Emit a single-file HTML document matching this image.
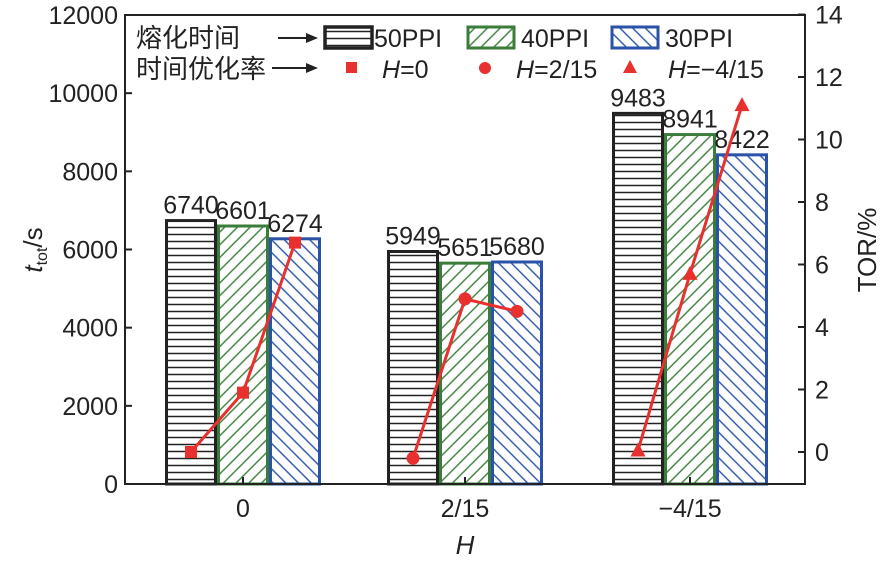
<!DOCTYPE html>
<html><head><meta charset="utf-8">
<style>
html,body{margin:0;padding:0;background:#fff;}
svg{display:block;font-family:"Liberation Sans","Noto Sans CJK SC",sans-serif;}
</style></head>
<body>
<svg id="chart" width="886" height="561" viewBox="0 0 886 561" xmlns="http://www.w3.org/2000/svg">
<defs>
<pattern id="hatchH" patternUnits="userSpaceOnUse" width="8" height="7"><rect width="8" height="7" fill="#fff"/><line x1="0" y1="3.5" x2="8" y2="3.5" stroke="#222" stroke-width="1.5"/></pattern>
<pattern id="hatchF" patternUnits="userSpaceOnUse" width="9" height="9" patternTransform="rotate(45)"><rect width="9" height="9" fill="#fff"/><line x1="4.5" y1="0" x2="4.5" y2="9" stroke="#3a7d3a" stroke-width="1.4"/></pattern>
<pattern id="hatchB" patternUnits="userSpaceOnUse" width="9" height="9" patternTransform="rotate(-45)"><rect width="9" height="9" fill="#fff"/><line x1="4.5" y1="0" x2="4.5" y2="9" stroke="#2a52a8" stroke-width="1.4"/></pattern>
</defs>
<g id="bars"></g>
<g id="lines"></g>
<g id="axes"></g>
<g id="legend"></g>
</svg>
<script>
const categories = ["0","2/15","\u22124/15"];
const series = ["50PPI","40PPI","30PPI"];
const ppi50 = [6740,5949,9483];
const ppi40 = [6601,5651,8941];
const ppi30 = [6274,5680,8422];
const torH0 = [0,1.9,6.7];
const torH2 = [-0.2,4.9,4.5];
const torH4 = [0.05,5.7,11.1];
const leftTicks = [0,2000,4000,6000,8000,10000,12000];
const rightTicks = [0,2,4,6,8,10,12,14];

const NS="http://www.w3.org/2000/svg";
const X0=125,X1=805,YB=484,YT=15;
const yL=v=>YB-(v/12000)*(YB-YT);
const yR=v=>452-v*31.25;
const catCenter=i=>[243,465,690][i];
const BW=52;
function mk(tag,attrs,parent,text){const e=document.createElementNS(NS,tag);for(const k in attrs)e.setAttribute(k,attrs[k]);if(text!==undefined)e.textContent=text;parent.appendChild(e);return e;}
const gB=document.getElementById('bars'),gL=document.getElementById('lines'),gA=document.getElementById('axes');
const fills=['url(#hatchH)','url(#hatchF)','url(#hatchB)'];
const strokes=['#222','#3a7d3a','#2a52a8'];
const vals=[ppi50,ppi40,ppi30];
for(let c=0;c<categories.length;c++){
  for(let s=0;s<3;s++){
    const x=catCenter(c)-1.5*BW+s*BW, y=yL(vals[s][c]);
    const r=mk('rect',{x:x+1.5,y:y,width:BW-3,height:YB-y,fill:fills[s],stroke:strokes[s],'stroke-width':3},gB);
    
    
    const t=mk('text',{x:x+BW/2,y:y-7,'text-anchor':'middle','font-size':25,fill:'#222'},gB,String(vals[s][c]));
    
    
  }
}
const tors=[torH0,torH2,torH4];
const shapes=['square','circle','triangle'];
for(let c=0;c<3;c++){
  const pts=tors[c].map((v,s)=>[catCenter(c)-BW+s*BW,yR(v)]);
  const pl=mk('polyline',{points:pts.map(p=>p.join(',')).join(' '),fill:'none',stroke:'#e8302f','stroke-width':3},gL);
  
  
  pts.forEach(p=>{
    let m;
    if(c===0)m=mk('rect',{x:p[0]-6,y:p[1]-6,width:12,height:12,fill:'#e8302f'},gL);
    else if(c===1)m=mk('circle',{cx:p[0],cy:p[1],r:6.5,fill:'#e8302f'},gL);
    else m=mk('polygon',{points:`${p[0]},${p[1]-8} ${p[0]-7.5},${p[1]+6} ${p[0]+7.5},${p[1]+6}`,fill:'#e8302f'},gL);
    
    
  });
}
const frame=mk('rect',{x:X0,y:YT,width:X1-X0,height:YB-YT,fill:'none',stroke:'#222','stroke-width':2},gA);


leftTicks.forEach(v=>{const y=yL(v);
  mk('line',{x1:X0,y1:y,x2:X0+7,y2:y,stroke:'#222','stroke-width':2},gA);
  const t=mk('text',{x:X0-7,y:y+9,'text-anchor':'end','font-size':25,fill:'#222'},gA,String(v));
  
  });
rightTicks.forEach(v=>{const y=yR(v);
  mk('line',{x1:X1-7,y1:y,x2:X1,y2:y,stroke:'#222','stroke-width':2},gA);
  const t=mk('text',{x:X1+10,y:y+9,'font-size':25,fill:'#222'},gA,String(v));
  
  });
categories.forEach((c,i)=>{const x=catCenter(i);
  mk('line',{x1:x,y1:YB,x2:x,y2:YB-7,stroke:'#222','stroke-width':2},gA);
  const t=mk('text',{x:x,y:517,'text-anchor':'middle','font-size':25,fill:'#222'},gA,c);
  
  });
</script>
<svg style="position:absolute;left:0;top:0" width="886" height="561">
<text x="465" y="554" text-anchor="middle" font-size="26" font-style="italic" font-family="Liberation Sans, sans-serif" fill="#222">H</text>
<text transform="translate(42,250) rotate(-90)" text-anchor="middle" font-size="26" font-family="Liberation Sans, sans-serif" fill="#222"><tspan font-style="italic">t</tspan><tspan font-size="16" dy="5">tot</tspan><tspan dy="-5">/s</tspan></text>
<text transform="translate(876,250) rotate(-90)" text-anchor="middle" font-size="26" font-family="Liberation Sans, sans-serif" fill="#222">TOR/%</text>
<g font-family="Liberation Sans, Noto Sans CJK SC, sans-serif" font-size="25" fill="#222">
<text x="136" y="47" font-size="26">熔化时间</text>
<text x="136" y="78" font-size="26">时间优化率</text>
<line x1="278" y1="38" x2="312" y2="38" stroke="#222" stroke-width="2"/><polygon points="318,38 306,33 306,43" fill="#222"/>
<line x1="272" y1="68" x2="312" y2="68" stroke="#222" stroke-width="2"/><polygon points="318,68 306,63 306,73" fill="#222"/>
<rect x="325" y="27" width="47" height="21" fill="url(#hatchH)" stroke="#222" stroke-width="3.5"/>
<text x="374" y="47">50PPI</text>
<rect x="468" y="27" width="46" height="21" fill="url(#hatchF)" stroke="#3a7d3a" stroke-width="3"/>
<text x="521" y="47">40PPI</text>
<rect x="612" y="27" width="46" height="21" fill="url(#hatchB)" stroke="#2a52a8" stroke-width="3"/>
<text x="665" y="47">30PPI</text>
<rect x="346" y="62" width="11" height="11" fill="#e8302f"/>
<text x="382" y="78"><tspan font-style="italic">H</tspan>=0</text>
<circle cx="485" cy="68" r="6" fill="#e8302f"/>
<text x="516" y="78"><tspan font-style="italic">H</tspan>=2/15</text>
<polygon points="630,60 623,73 637,73" fill="#e8302f"/>
<text x="668" y="78"><tspan font-style="italic">H</tspan>=−4/15</text>
</g>
</svg>
</body></html>
